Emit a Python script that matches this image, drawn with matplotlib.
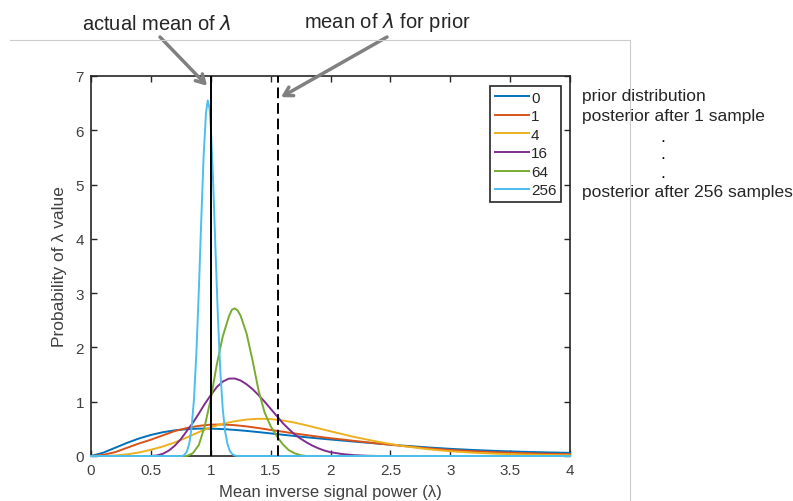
import matplotlib
matplotlib.use("Agg")
import matplotlib.pyplot as plt
from matplotlib.lines import Line2D

plt.rcParams['font.family'] = ['Liberation Sans', 'DejaVu Sans']

# ---------- data ----------
sample_counts = ['0', '1', '4', '16', '64', '256']
line_colors = ['#0072BD', '#D95319', '#EDB120', '#7E2F8E', '#77AC30', '#4DBEEE']

x_wide = [0.0, 0.1, 0.2, 0.3, 0.4, 0.5, 0.6, 0.7, 0.8, 0.9, 1.0,
          1.1, 1.2, 1.3, 1.4, 1.5, 1.6, 1.7, 1.8, 1.9, 2.0,
          2.2, 2.4, 2.6, 2.8, 3.0, 3.2, 3.4, 3.6, 3.8, 4.0]
prior_0 = [0.0, 0.059, 0.150, 0.241, 0.322, 0.388, 0.438, 0.473, 0.494, 0.504, 0.504,
           0.496, 0.481, 0.462, 0.440, 0.416, 0.392, 0.368, 0.345, 0.324, 0.304,
           0.265, 0.228, 0.192, 0.160, 0.132, 0.110, 0.092, 0.078, 0.067, 0.058]
post_1 = [0.0, 0.02, 0.07, 0.15, 0.23, 0.30, 0.38, 0.46, 0.515, 0.555, 0.578,
          0.58, 0.568, 0.545, 0.515, 0.48, 0.448, 0.415, 0.385, 0.355, 0.328,
          0.278, 0.23, 0.185, 0.145, 0.112, 0.087, 0.068, 0.053, 0.042, 0.034]
post_4 = [0.0, 0.0, 0.01, 0.03, 0.065, 0.115, 0.175, 0.25, 0.34, 0.44, 0.53,
          0.595, 0.64, 0.672, 0.686, 0.68, 0.655, 0.615, 0.565, 0.51, 0.455,
          0.35, 0.26, 0.185, 0.128, 0.088, 0.06, 0.041, 0.028, 0.019, 0.013]

x_16 = [0.0, 0.5, 0.55, 0.6, 0.65, 0.7, 0.75, 0.8, 0.85, 0.9, 0.95, 1.0,
        1.05, 1.1, 1.15, 1.2, 1.25, 1.3, 1.35, 1.4, 1.45, 1.5, 1.55, 1.6,
        1.65, 1.7, 1.75, 1.8, 1.85, 1.9, 1.95, 2.0, 2.1, 2.2, 2.3, 2.4, 4.0]
post_16 = [0.0, 0.0, 0.01, 0.04, 0.10, 0.19, 0.31, 0.46, 0.61, 0.78, 0.96, 1.12,
           1.27, 1.37, 1.425, 1.428, 1.39, 1.32, 1.23, 1.12, 1.0, 0.87, 0.74, 0.61,
           0.5, 0.4, 0.32, 0.25, 0.19, 0.14, 0.10, 0.07, 0.035, 0.015, 0.005, 0.0, 0.0]

x_64 = [0.0, 0.8, 0.85, 0.9, 0.95, 1.0, 1.05, 1.1, 1.15, 1.175, 1.2, 1.225,
        1.25, 1.3, 1.35, 1.4, 1.45, 1.5, 1.55, 1.6, 1.65, 1.7, 1.75, 1.8, 4.0]
post_64 = [0.0, 0.0, 0.05, 0.2, 0.55, 1.05, 1.68, 2.2, 2.56, 2.69, 2.72, 2.68,
           2.58, 2.25, 1.75, 1.2, 0.8, 0.55, 0.37, 0.22, 0.11, 0.05, 0.015, 0.0, 0.0]

x_256 = [0.0, 0.76, 0.78, 0.80, 0.82, 0.84, 0.86, 0.88, 0.90, 0.92, 0.94, 0.96,
         0.975, 0.99, 1.00, 1.02, 1.04, 1.06, 1.08, 1.10, 1.12, 1.14, 1.16,
         1.18, 1.20, 1.22, 4.0]
post_256 = [0.0, 0.0, 0.02, 0.08, 0.22, 0.52, 1.05, 1.9, 3.02, 4.3, 5.5, 6.32,
            6.55, 6.4, 6.08, 5.05, 3.78, 2.55, 1.56, 0.87, 0.45, 0.22, 0.09,
            0.035, 0.01, 0.0, 0.0]

actual_mean = 1.0
prior_mean = 1.56

x_ticks = [0, 0.5, 1, 1.5, 2, 2.5, 3, 3.5, 4]
x_tick_labels = ['0', '0.5', '1', '1.5', '2', '2.5', '3', '3.5', '4']
y_ticks = [0, 1, 2, 3, 4, 5, 6, 7]

side_notes = ['prior distribution', 'posterior after 1 sample', '.', '.', '.',
              'posterior after 256 samples']

# ---------- plot ----------
W, H = 793, 502
fig = plt.figure(figsize=(W / 100, H / 100), dpi=100)
ax = fig.add_axes([91 / W, 1 - 457 / H, 479 / W, 380 / H])

# light window frame behind the plot
fig.add_artist(Line2D([10 / W, 630 / W], [1 - 41 / H, 1 - 41 / H],
                      transform=fig.transFigure, color='#cccccc', lw=0.8))
fig.add_artist(Line2D([630 / W, 630 / W], [1 - 41 / H, 0],
                      transform=fig.transFigure, color='#cccccc', lw=0.8))

series = [(x_wide, prior_0), (x_wide, post_1), (x_wide, post_4),
          (x_16, post_16), (x_64, post_64), (x_256, post_256)]
for (xs, ys), c, lab in zip(series, line_colors, sample_counts):
    ax.plot(xs, ys, color=c, lw=1.4, label=lab, clip_on=False, zorder=3)

ax.axvline(actual_mean, color='black', lw=1.4, zorder=4)
ax.axvline(prior_mean, color='black', lw=1.4, dashes=(5.5, 2.5), zorder=4)

ax.set_xlim(0, 4)
ax.set_ylim(0, 7)
ax.set_xticks(x_ticks)
ax.set_xticklabels(x_tick_labels)
ax.set_yticks(y_ticks)
ax.tick_params(direction='in', top=True, right=True, length=4, width=1,
               color='#262626', labelcolor='#404040', labelsize=11, pad=5)
for sp in ax.spines.values():
    sp.set_color('#262626')
    sp.set_linewidth(1.2)

ax.set_xlabel('Mean inverse signal power (λ)', fontsize=12, color='#404040', labelpad=5)
ax.set_ylabel('Probability of λ value', fontsize=12.5, color='#404040', labelpad=6)

leg = ax.legend(loc='upper right', bbox_to_anchor=((561 - 91) / 479, (457 - 87) / 380),
                borderaxespad=0, fontsize=11, handlelength=2.2, handletextpad=0.15,
                labelspacing=0.3, borderpad=0.3, fancybox=False, framealpha=1)
leg.get_frame().set_edgecolor('#262626')
leg.get_frame().set_linewidth(1.2)
for t in leg.get_texts():
    t.set_color('#262626')

# ---------- annotations ----------
arrow = dict(arrowstyle='->,head_length=0.6,head_width=0.35', color='#808080',
             lw=2.5, shrinkA=0, shrinkB=0)
ax.annotate('', xy=(0.969, 6.82), xycoords='data',
            xytext=(160, H - 38), textcoords='figure pixels', arrowprops=arrow)
ax.annotate('', xy=(1.587, 6.61), xycoords='data',
            xytext=(387, H - 38), textcoords='figure pixels', arrowprops=arrow)

fig.text(157 / W, 1 - 25 / H, 'actual mean of $\\lambda$', ha='center', va='center',
         fontsize=14.5, color='#262626')
fig.text(387 / W, 1 - 22 / H, 'mean of $\\lambda$ for prior', ha='center', va='center',
         fontsize=14.5, color='#262626')

note_y = [97, 117, 137, 155, 173, 193]
for txt, yy in zip(side_notes, note_y):
    if txt == '.':
        fig.text(663 / W, 1 - yy / H, txt, ha='center', va='center', fontsize=12.5)
    else:
        fig.text(582 / W, 1 - yy / H, txt, ha='left', va='center', fontsize=12.5,
                 color='#262626')

fig.savefig('out.png', dpi=100)
